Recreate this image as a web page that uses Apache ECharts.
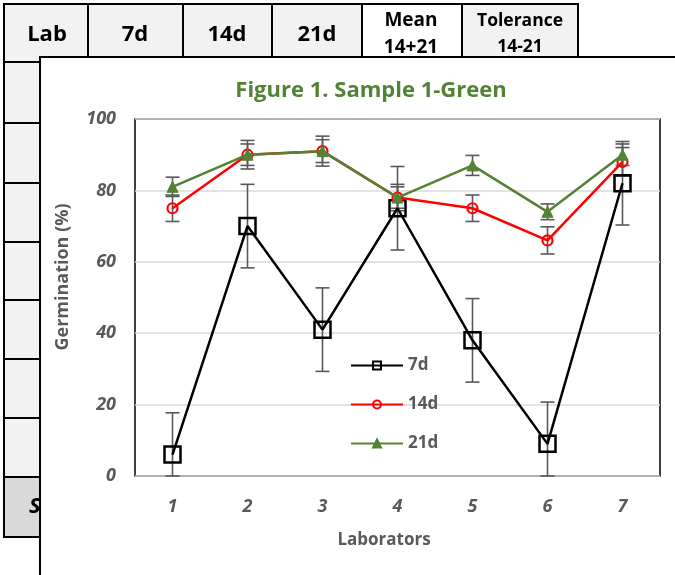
<!DOCTYPE html>
<html><head><meta charset="utf-8">
<script src="https://cdn.jsdelivr.net/npm/echarts@6/dist/echarts.min.js"></script>
<style>html,body{margin:0;padding:0;background:#fff}#c{width:675px;height:575px}</style>
</head><body><div id="c"></div>
<script>
var labs = ['1','2','3','4','5','6','7'];
var d7  = [6, 70, 41, 75, 38, 9, 82];
var d14 = [75, 90, 91, 78, 75, 66, 88];
var d21 = [81, 90, 91, 78, 87, 74, 90];
var e7  = [11.7, 11.7, 11.7, 11.7, 11.7, 11.7, 11.7];
var e14 = [3.7, 4, 4.2, 3.7, 3.7, 3.8, 4];
var e21 = [2.7, 3, 3.2, 3, 2.8, 2.2, 3];
var seriesNames = ['7d','14d','21d'];
var headers = ['Lab','7d','14d','21d'];
var xTitle = 'Laborators';
var yTitle = 'Germination (%)';

var F = '"Open Sans", Lato, sans-serif';
var grey = '#595959';
var green = '#548235';

function errData(v, e) {
  return v.map(function (x, i) { return [i, Math.max(0, x - e[i]), Math.min(100, x + e[i])]; });
}
function errSeries(v, e, z) {
  return {
    type: 'custom', z: z, silent: true,
    data: errData(v, e),
    encode: { x: 0, y: [1, 2] },
    renderItem: function (params, api) {
      var i = api.value(0);
      var lo = api.coord([i, api.value(1)]);
      var hi = api.coord([i, api.value(2)]);
      var w = 7;
      var st = { stroke: grey, lineWidth: 1.6 };
      return { type: 'group', children: [
        { type: 'line', shape: { x1: lo[0], y1: lo[1], x2: hi[0], y2: hi[1] }, style: st },
        { type: 'line', shape: { x1: hi[0] - w, y1: hi[1], x2: hi[0] + w, y2: hi[1] }, style: st },
        { type: 'line', shape: { x1: lo[0] - w, y1: lo[1], x2: lo[0] + w, y2: lo[1] }, style: st }
      ]};
    }
  };
}

// background table (document behind the chart)
var g = [];
var colX = [4, 88, 183, 272, 362, 462, 578];
var cellFill = ['#f2f2f2','#f2f2f2','#f2f2f2','#f2f2f2','#ffffff','#f2f2f2'];
for (var k = 0; k < 6; k++) {
  g.push({ type: 'rect', z: -5, shape: { x: colX[k], y: 4, width: colX[k+1] - colX[k], height: 58 },
    style: { fill: cellFill[k], stroke: '#000', lineWidth: 2 } });
}
var rowY = [62, 123, 183, 242, 300, 359, 418, 477, 537];
for (var r = 0; r < rowY.length - 1; r++) {
  g.push({ type: 'rect', z: -5, shape: { x: 4, y: rowY[r], width: 60, height: rowY[r+1] - rowY[r] },
    style: { fill: r === rowY.length - 2 ? '#d9d9d9' : '#f2f2f2', stroke: '#000', lineWidth: 2 } });
}
g.push({ type: 'text', z: -4, style: { text: 'S', x: 29, y: 507, fill: '#000', font: 'italic bold 22px ' + F, textVerticalAlign: 'middle' } });
var hdrCx = [47, 135, 227, 317];
for (var h = 0; h < headers.length; h++) {
  g.push({ type: 'text', z: -4, style: { text: headers[h], x: hdrCx[h], y: 35, textAlign: 'center', textVerticalAlign: 'middle', fill: '#000', font: 'bold 22px ' + F } });
}
g.push({ type: 'text', z: -4, style: { text: 'Mean', x: 411, y: 21, textAlign: 'center', textVerticalAlign: 'middle', fill: '#000', font: 'bold 19px ' + F } });
g.push({ type: 'text', z: -4, style: { text: '14+21', x: 411, y: 48, textAlign: 'center', textVerticalAlign: 'middle', fill: '#000', font: 'bold 19px ' + F } });
g.push({ type: 'text', z: -4, style: { text: 'Tolerance', x: 520, y: 21, textAlign: 'center', textVerticalAlign: 'middle', fill: '#000', font: 'bold 17.5px ' + F } });
g.push({ type: 'text', z: -4, style: { text: '14-21', x: 520, y: 47, textAlign: 'center', textVerticalAlign: 'middle', fill: '#000', font: 'bold 17.5px ' + F } });
// chart object panel
g.push({ type: 'rect', z: -3, shape: { x: 40, y: 57, width: 660, height: 540 },
  style: { fill: '#fff', stroke: '#000', lineWidth: 2 } });
// axis titles (placed as in the reference, offset from axis centre)
g.push({ type: 'text', z: 1, x: 63, y: 277, rotation: Math.PI / 2,
  style: { text: yTitle, textAlign: 'center', textVerticalAlign: 'middle', fill: grey, font: 'bold 18px ' + F } });
g.push({ type: 'text', z: 1, x: 384, y: 540,
  style: { text: xTitle, textAlign: 'center', textVerticalAlign: 'middle', fill: grey, font: 'bold 17px ' + F } });

var chart = echarts.init(document.getElementById('c'));
chart.setOption({
  animation: false,
  graphic: { elements: g },
  title: {
    text: 'Figure 1. Sample 1-Green', left: 366, top: 75, textAlign: 'center',
    textStyle: { color: green, fontFamily: F, fontWeight: 'bold', fontSize: 22 }
  },
  grid: { left: 135, right: 15, top: 119, bottom: 99, show: true, borderColor: '#000', borderWidth: 1.5, backgroundColor: 'transparent' },
  legend: {
    data: seriesNames, orient: 'vertical', left: 345, top: 352,
    itemWidth: 52, itemHeight: 10, itemGap: 22,
    textStyle: { color: grey, fontFamily: F, fontWeight: 'bold', fontSize: 17 }
  },
  xAxis: {
    type: 'category', data: labs, boundaryGap: true,
    axisLine: { show: false }, axisTick: { show: false },
    axisLabel: { margin: 22, color: grey, fontFamily: F, fontSize: 18, fontWeight: 'bold', fontStyle: 'italic' }
  },
  yAxis: {
    type: 'value', min: 0, max: 100, interval: 20,
    axisLine: { show: false }, axisTick: { show: false },
    splitLine: { lineStyle: { color: '#d9d9d9', width: 1.5 } },
    axisLabel: { margin: 19, color: grey, fontFamily: F, fontSize: 18, fontWeight: 'bold', fontStyle: 'italic' }
  },
  series: [
    errSeries(d7, e7, 3), errSeries(d14, e14, 3), errSeries(d21, e21, 3),
    { name: '7d', type: 'line', data: d7, z: 4, symbol: 'rect', symbolSize: 16,
      lineStyle: { color: '#000', width: 2.5 },
      itemStyle: { color: 'rgba(0,0,0,0)', borderColor: '#000', borderWidth: 2.5 } },
    { name: '14d', type: 'line', data: d14, z: 5, symbol: 'circle', symbolSize: 10,
      lineStyle: { color: '#ff0000', width: 2.5 },
      itemStyle: { color: 'rgba(0,0,0,0)', borderColor: '#ff0000', borderWidth: 2.2 } },
    { name: '21d', type: 'line', data: d21, z: 6, symbol: 'triangle', symbolSize: 11,
      lineStyle: { color: green, width: 2.5 },
      itemStyle: { color: green, borderColor: green, borderWidth: 1 } }
  ]
});
</script></body></html>
